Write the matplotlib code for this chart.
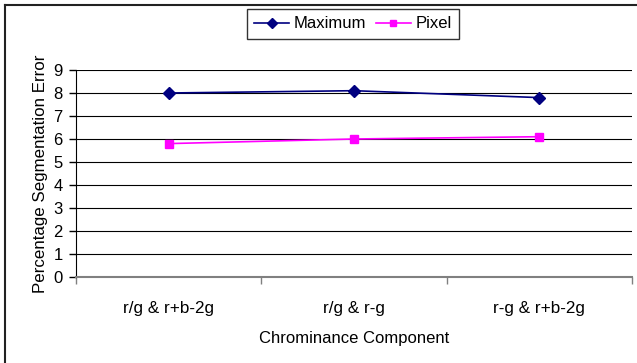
import matplotlib
matplotlib.use("Agg")
import matplotlib.pyplot as plt
from matplotlib.lines import Line2D

categories = ["r/g & r+b-2g", "r/g & r-g", "r-g & r+b-2g"]
maximum = [8.0, 8.1, 7.8]
pixel = [5.8, 6.0, 6.1]
y_ticks = list(range(0, 10))

plt.rcParams["font.family"] = ["Liberation Sans", "DejaVu Sans"]

fig = plt.figure(figsize=(6.37, 3.63), dpi=100)
ax = fig.add_axes([76 / 637, 86 / 363, 556 / 637, 207 / 363])

x = list(range(len(categories)))
ax.plot(x, maximum, color="#000080", marker="D", markersize=6, lw=1.2, label="Maximum")
ax.plot(x, pixel, color="#FF00FF", marker="s", markersize=6, lw=1.2, label="Pixel")

ax.set_xlim(-0.5, len(categories) - 0.5)
ax.set_ylim(0, 9)
ax.set_yticks(y_ticks)
ax.yaxis.grid(True, color="black", lw=0.8)
ax.set_axisbelow(True)

ax.set_xticks(x)
ax.set_xticklabels(categories, fontsize=12.3)
ax.set_xticks([i - 0.5 for i in range(len(categories) + 1)], minor=True)
ax.tick_params(axis="x", which="major", length=0, pad=17)
ax.tick_params(axis="x", which="minor", length=5, color="#808080", width=1)
ax.tick_params(axis="y", length=5, width=1, labelsize=12, pad=4.5)

for s in ("top", "right"):
    ax.spines[s].set_visible(False)
ax.spines["left"].set_color("black")
ax.spines["bottom"].set_color("#808080")
ax.spines["bottom"].set_linewidth(1.5)

ax.set_xlabel("Chrominance Component", fontsize=12, labelpad=11)
ax.set_ylabel("Percentage Segmentation Error", fontsize=12.2, labelpad=4)

leg = fig.legend(loc="center", bbox_to_anchor=(353 / 637, 1 - 24 / 363), ncol=2,
                 fontsize=12, frameon=True, fancybox=False, edgecolor="black",
                 handlelength=2.1, handletextpad=0.3, columnspacing=0.55,
                 borderpad=0.45, borderaxespad=0)
leg.get_frame().set_linewidth(1.0)
for h in leg.legend_handles:
    h.set_markersize(5)

# outer chart frame (left and top edges visible)
fig.add_artist(Line2D([4.5 / 637, 4.5 / 637], [0, 1 - 4.5 / 363], color="#222222", lw=1.5))
fig.add_artist(Line2D([4.5 / 637, 1], [1 - 4.5 / 363, 1 - 4.5 / 363], color="#222222", lw=1.5))

fig.savefig("out.png", dpi=100)
